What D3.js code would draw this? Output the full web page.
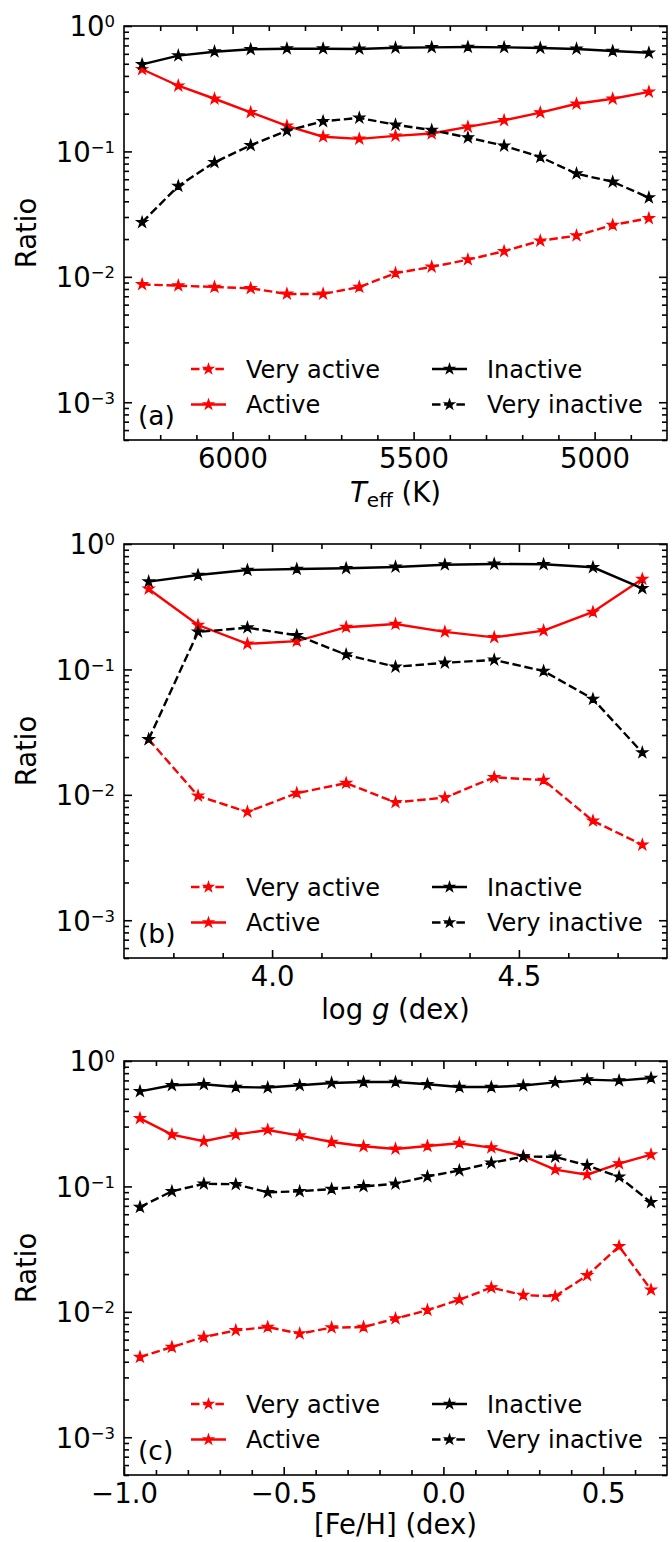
<!DOCTYPE html>
<html>
<head>
<meta charset="utf-8">
<script src="https://cdn.jsdelivr.net/npm/d3@7"></script>
<style>
  body { margin: 0; background: #fff; }
  svg { display: block; font-family: "DejaVu Sans", sans-serif; }
</style>
</head>
<body>
<div id="vis"></div>
<script>
// panel (a): Teff bins
const teffX = [6250, 6150, 6050, 5950, 5850, 5750, 5650, 5550, 5450, 5350, 5250, 5150, 5050, 4950, 4850];
const teffVeryActive = [0.0087, 0.0085, 0.0083, 0.0081, 0.0073, 0.0073, 0.0083, 0.0107, 0.0120, 0.0137, 0.0160, 0.0194, 0.0213, 0.0259, 0.0293];
const teffActive = [0.452, 0.334, 0.263, 0.205, 0.160, 0.131, 0.126, 0.133, 0.139, 0.157, 0.177, 0.204, 0.240, 0.263, 0.298];
const teffInactive = [0.495, 0.580, 0.624, 0.652, 0.659, 0.659, 0.656, 0.671, 0.676, 0.680, 0.676, 0.668, 0.656, 0.632, 0.612];
const teffVeryInactive = [0.0272, 0.0530, 0.0818, 0.112, 0.146, 0.174, 0.185, 0.163, 0.148, 0.129, 0.111, 0.0902, 0.0664, 0.0573, 0.0428];
const teffTicks = [6000, 5500, 5000];

// panel (b): log g bins
const loggX = [3.75, 3.85, 3.95, 4.05, 4.15, 4.25, 4.35, 4.45, 4.55, 4.65, 4.75];
const loggVeryActive = [0.0277, 0.0098, 0.0073, 0.0103, 0.0124, 0.0087, 0.0095, 0.0138, 0.0131, 0.0062, 0.0040];
const loggActive = [0.438, 0.226, 0.160, 0.168, 0.217, 0.230, 0.199, 0.180, 0.204, 0.287, 0.526];
const loggInactive = [0.501, 0.566, 0.620, 0.632, 0.640, 0.656, 0.684, 0.693, 0.689, 0.652, 0.443];
const loggVeryInactive = [0.0277, 0.199, 0.215, 0.187, 0.131, 0.105, 0.113, 0.119, 0.0971, 0.0581, 0.0217];
const loggTicks = [4.0, 4.5];

// panel (c): [Fe/H] bins
const fehX = [-0.95, -0.85, -0.75, -0.65, -0.55, -0.45, -0.35, -0.25, -0.15, -0.05, 0.05, 0.15, 0.25, 0.35, 0.45, 0.55, 0.65];
const fehVeryActive = [0.00436, 0.00524, 0.00630, 0.00711, 0.00757, 0.00670, 0.00748, 0.00757, 0.00883, 0.0103, 0.0125, 0.0156, 0.0136, 0.0133, 0.0195, 0.0333, 0.0150];
const fehActive = [0.349, 0.259, 0.229, 0.259, 0.282, 0.254, 0.226, 0.209, 0.199, 0.210, 0.221, 0.204, 0.174, 0.136, 0.124, 0.152, 0.179];
const fehInactive = [0.573, 0.640, 0.652, 0.620, 0.614, 0.640, 0.668, 0.680, 0.680, 0.652, 0.620, 0.620, 0.637, 0.676, 0.711, 0.698, 0.732];
const fehVeryInactive = [0.0685, 0.0914, 0.105, 0.104, 0.0897, 0.0914, 0.0953, 0.100, 0.105, 0.120, 0.134, 0.154, 0.173, 0.172, 0.147, 0.119, 0.0746];
const fehTicks = [-1.0, -0.5, 0.0, 0.5];

const seriesNames = ["Very active", "Active", "Inactive", "Very inactive"];
const seriesColors = ["red", "red", "black", "black"];
const seriesDashed = [true, false, false, true];
const yTicks = [1, 0.1, 0.01, 0.001];

const W = 672, H = 1542;
const left = 124, plotW = 543, plotH = 414;
const tops = [26, 544, 1061];
const tickFont = 27.5, legendFont = 24;
const majorLen = 8, minorLen = 5;
const lw = 2.4;

const svg = d3.select("#vis").append("svg")
  .attr("width", W).attr("height", H);
svg.append("rect").attr("width", W).attr("height", H).attr("fill", "#fff");

const panels = [
  { xs: teffX, series: [teffVeryActive, teffActive, teffInactive, teffVeryInactive],
    domain: [6300, 4800], ticks: teffTicks, minor: d3.range(4900, 6300, 100),
    fmt: d3.format("d"), tag: "(a)", xlabOffset: 62 },
  { xs: loggX, series: [loggVeryActive, loggActive, loggInactive, loggVeryInactive],
    domain: [3.7, 4.8], ticks: loggTicks, minor: d3.range(3.8, 4.75, 0.1),
    fmt: d3.format(".1f"), tag: "(b)", xlabOffset: 61 },
  { xs: fehX, series: [fehVeryActive, fehActive, fehInactive, fehVeryInactive],
    domain: [-1.0, 0.7], ticks: fehTicks, minor: d3.range(-0.9, 0.65, 0.1),
    fmt: d => d3.format(".1f")(d).replace("-", "\u2212"), tag: "(c)", xlabOffset: 59 }
];

const star = d3.symbol().type(d3.symbolStar).size(36);
const legendStar = d3.symbol().type(d3.symbolStar).size(30);

panels.forEach((p, i) => {
  const g = svg.append("g").attr("transform", `translate(${left},${tops[i]})`);

  const x = d3.scaleLinear().domain(p.domain).range([0, plotW]);
  const y = d3.scaleLog().domain([5e-4, 1]).range([plotH, 0]);

  const isMajor = v => p.ticks.some(t => Math.abs(t - v) < 1e-6);
  const minorX = p.minor.filter(v => !isMajor(v));
  const minorY = [];
  [-4, -3, -2, -1].forEach(e => {
    for (let k = 2; k <= 9; k++) {
      const v = k * Math.pow(10, e);
      if (v >= 5e-4 && v < 1) minorY.push(v);
    }
  });

  // ticks (all pointing inward)
  const tickStyle = sel => {
    sel.select(".domain").remove();
    sel.selectAll("line").attr("stroke-width", 1.6);
  };
  g.append("g").attr("transform", `translate(0,${plotH})`)
    .call(d3.axisBottom(x).tickValues(p.ticks).tickSizeInner(-majorLen).tickSizeOuter(0)
      .tickPadding(8.5).tickFormat(p.fmt))
    .call(tickStyle)
    .selectAll("text").attr("font-size", tickFont).attr("font-family", "DejaVu Sans").attr("fill", "#000");
  g.append("g").attr("transform", `translate(0,${plotH})`)
    .call(d3.axisBottom(x).tickValues(minorX).tickSizeInner(-minorLen).tickSizeOuter(0).tickFormat(""))
    .call(tickStyle);
  g.append("g")
    .call(d3.axisTop(x).tickValues(p.ticks).tickSizeInner(-majorLen).tickSizeOuter(0).tickFormat(""))
    .call(tickStyle);
  g.append("g")
    .call(d3.axisTop(x).tickValues(minorX).tickSizeInner(-minorLen).tickSizeOuter(0).tickFormat(""))
    .call(tickStyle);

  const gy = g.append("g")
    .call(d3.axisLeft(y).tickValues(yTicks).tickSizeInner(-majorLen).tickSizeOuter(0).tickPadding(9).tickFormat(""))
    .call(tickStyle);
  gy.selectAll(".tick text")
    .attr("font-size", tickFont).attr("font-family", "DejaVu Sans").attr("fill", "#000")
    .attr("dy", "0.36em")
    .each(function (d) {
      const t = d3.select(this);
      const e = Math.round(Math.log10(d));
      t.append("tspan").text("10");
      t.append("tspan").attr("dy", -9).attr("font-size", 16.5)
        .text(e < 0 ? "\u2212" + (-e) : String(e));
    });
  g.append("g")
    .call(d3.axisLeft(y).tickValues(minorY).tickSizeInner(-minorLen).tickSizeOuter(0).tickFormat(""))
    .call(tickStyle);
  g.append("g").attr("transform", `translate(${plotW},0)`)
    .call(d3.axisRight(y).tickValues(yTicks).tickSizeInner(-majorLen).tickSizeOuter(0).tickFormat(""))
    .call(tickStyle);
  g.append("g").attr("transform", `translate(${plotW},0)`)
    .call(d3.axisRight(y).tickValues(minorY).tickSizeInner(-minorLen).tickSizeOuter(0).tickFormat(""))
    .call(tickStyle);

  // series
  const line = d3.line().x(d => x(d[0])).y(d => y(d[1]));
  p.series.forEach((vals, s) => {
    const pts = p.xs.map((xv, j) => [xv, vals[j]]);
    g.append("path")
      .datum(pts)
      .attr("fill", "none")
      .attr("stroke", seriesColors[s])
      .attr("stroke-width", lw)
      .attr("stroke-dasharray", seriesDashed[s] ? "8.5,3.7" : null)
      .attr("d", line);
    g.selectAll(null)
      .data(pts)
      .join("path")
      .attr("transform", d => `translate(${x(d[0])},${y(d[1])})`)
      .attr("d", star)
      .attr("fill", seriesColors[s])
      .attr("stroke", seriesColors[s])
      .attr("stroke-width", 1.2);
  });

  // frame
  g.append("rect")
    .attr("width", plotW).attr("height", plotH)
    .attr("fill", "none").attr("stroke", "#000").attr("stroke-width", 1.6);

  // legend, two columns
  const legCols = [67, 308];
  const legRows = [plotH - 71, plotH - 35.5];
  seriesNames.forEach((name, s) => {
    const cx = legCols[Math.floor(s / 2)];
    const cy = legRows[s % 2];
    g.append("line")
      .attr("x1", cx).attr("x2", cx + 35)
      .attr("y1", cy).attr("y2", cy)
      .attr("stroke", seriesColors[s])
      .attr("stroke-width", lw)
      .attr("stroke-dasharray", seriesDashed[s] ? "8.5,3.7" : null);
    g.append("path")
      .attr("transform", `translate(${cx + 17.5},${cy})`)
      .attr("d", legendStar)
      .attr("fill", seriesColors[s])
      .attr("stroke", seriesColors[s])
      .attr("stroke-width", 1.2);
    g.append("text")
      .attr("x", cx + 55).attr("y", cy + 8.5)
      .attr("font-size", legendFont)
      .text(name);
  });

  // panel tag
  g.append("text")
    .attr("x", 14).attr("y", plotH - 15)
    .attr("font-size", 26.5)
    .text(p.tag);

  // y label
  g.append("text")
    .attr("transform", `translate(${36 - left},${plotH / 2}) rotate(-90)`)
    .attr("text-anchor", "middle")
    .attr("font-size", tickFont)
    .text("Ratio");

  // x label
  const xl = g.append("text")
    .attr("x", plotW / 2).attr("y", plotH + p.xlabOffset)
    .attr("text-anchor", "middle")
    .attr("font-size", tickFont);
  if (i === 0) {
    xl.append("tspan").attr("font-style", "italic").text("T");
    xl.append("tspan").attr("font-size", 20).attr("dy", 5).text("eff");
    xl.append("tspan").attr("dy", -5).text(" (K)");
  } else if (i === 1) {
    xl.append("tspan").text("log ");
    xl.append("tspan").attr("font-style", "italic").text("g");
    xl.append("tspan").text(" (dex)");
  } else {
    xl.text("[Fe/H] (dex)");
  }
});
</script>
</body>
</html>
